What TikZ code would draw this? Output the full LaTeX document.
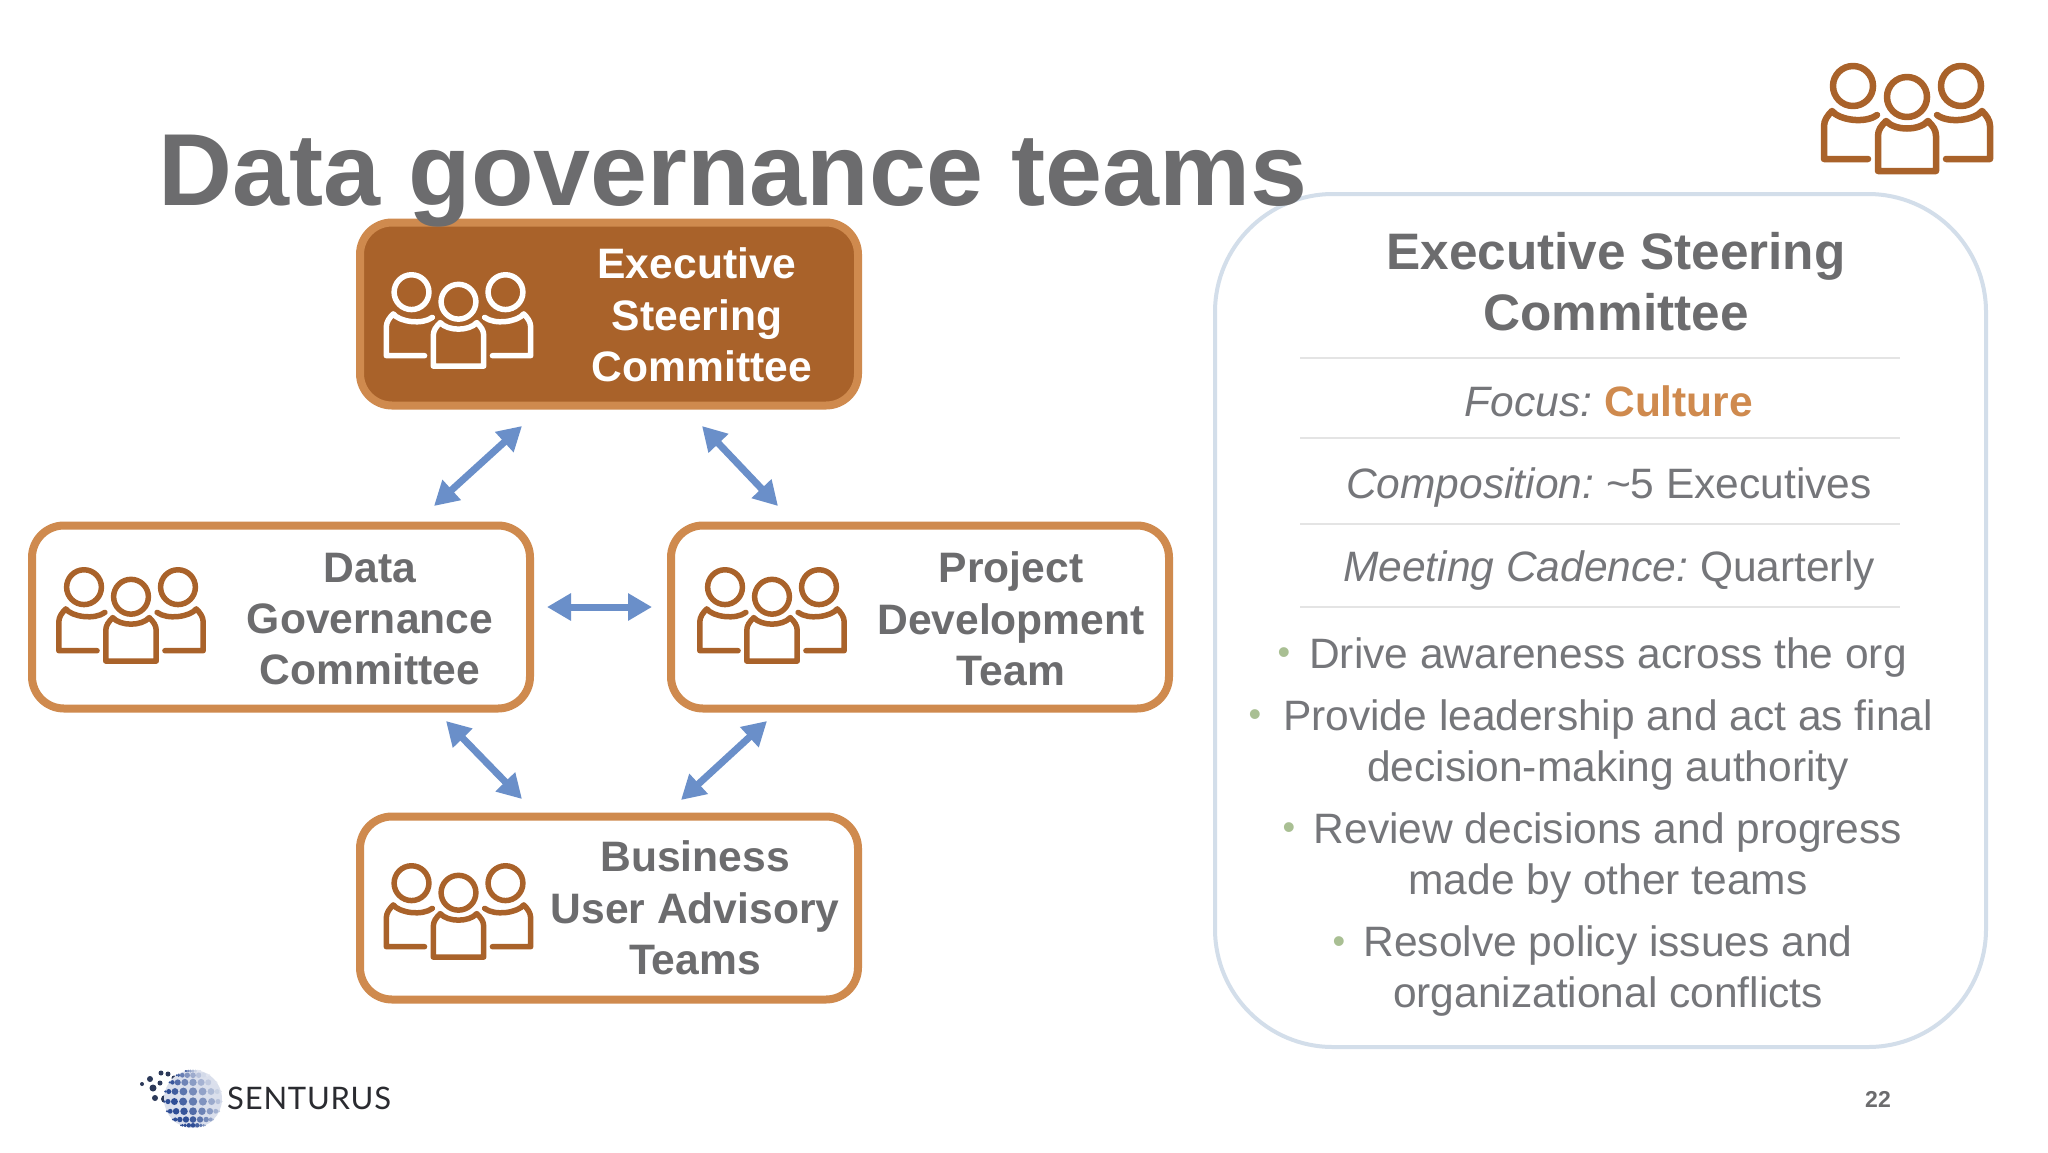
\documentclass[tikz,border=0pt]{standalone}
\usepackage{fontspec}
\setmainfont{Liberation Sans}
\newfontfamily\logofont[LetterSpace=2.5]{Lato}
\usetikzlibrary{arrows.meta}
\definecolor{brownfill}{HTML}{A9622A}
\definecolor{orangeline}{HTML}{CF8A4E}
\definecolor{iconbrown}{HTML}{A9622A}
\definecolor{txtgrey}{HTML}{6C6C6E}
\definecolor{bodygrey}{HTML}{75767A}
\definecolor{arrowblue}{HTML}{6A8FC9}
\definecolor{panelline}{HTML}{D3DEEA}
\definecolor{sepline}{HTML}{E4E4E4}
\definecolor{bulletgreen}{HTML}{A9BF93}
\definecolor{logodark}{HTML}{2A2B30}
\definecolor{globeblue}{HTML}{2F4E96}
\tikzset{
  team/.style={draw=orangeline,line width=8pt,rounded corners=32pt,minimum width=498pt,minimum height=183pt,fill=white,inner sep=0pt},
  teamtext/.style={align=center,text=txtgrey,font=\fontsize{42.6}{51.3}\selectfont\bfseries,inner sep=0pt},
  link/.style={draw=arrowblue,line width=7pt,{Triangle[length=24pt,width=26pt]}-{Triangle[length=24pt,width=26pt]}},
  bodytext/.style={align=center,text=bodygrey,font=\fontsize{42.5}{51.3}\selectfont,inner sep=0pt},
  dot/.style={text=bulletgreen,font=\fontsize{36}{36}\selectfont,inner sep=0pt},
  sep/.style={draw=sepline,line width=1.6pt},
  pics/people/.style={code={
    \begin{scope}[line cap=round,line join=round,fill=none]
    \draw (-54,-32) circle (20);
    \draw (0,-21) circle (20);
    \draw (54,-32) circle (20);
    \draw (-39,41) -- (-83,41) -- (-83,8) .. controls (-83,2) and (-79,-3) .. (-75,-7) .. controls (-68,2) and (-42,6) .. (-30,-3);
    \draw (39,41) -- (83,41) -- (83,8) .. controls (83,2) and (79,-3) .. (75,-7) .. controls (68,2) and (42,6) .. (30,-3);
    \draw (-29,53) -- (29,53) -- (29,18) .. controls (29,12) and (26,8) .. (21,3) .. controls (12,13) and (-12,13) .. (-21,3) .. controls (-26,8) and (-29,12) .. (-29,18) -- cycle;
    \end{scope}
  }}
}
\begin{document}
\begin{tikzpicture}[x=1pt,y=-1pt]
\useasboundingbox (0,0) rectangle (2048,1152);
\fill[white] (0,0) rectangle (2048,1152);

% team boxes
\node[team,fill=brownfill] (exec) at (609,314) {};
\node[team] (dgc) at (281,617) {};
\node[team] (pdt) at (920,617) {};
\node[team] (buat) at (609,908) {};

% icons
\pic[draw=iconbrown,line width=6.5pt] at (1907,118) {people};
\pic[draw=white,line width=5.5pt,scale=.87] at (458.5,320) {people};
\pic[draw=iconbrown,line width=5.5pt,scale=.87] at (131,615) {people};
\pic[draw=iconbrown,line width=5.5pt,scale=.87] at (772,615) {people};
\pic[draw=iconbrown,line width=5.5pt,scale=.87] at (458.5,911) {people};

% box texts
\node[teamtext,text=white] (exectxt) at (697,315) {Executive\\Steering\\\kern10pt Committee};
\node[teamtext] (dgctxt) at (370,619) {Data\\Governance\\Committee};
\node[teamtext] (pdttxt) at (1011,619) {Project\\Development\\Team};
\node[teamtext] (buattxt) at (695,908) {Business\\User Advisory\\Teams};

% connector ends
\coordinate (a1) at (522,426); \coordinate (a2) at (434,506);
\coordinate (b1) at (702,426); \coordinate (b2) at (778,506);
\coordinate (c1) at (547,607); \coordinate (c2) at (652,607);
\coordinate (d1) at (446,721); \coordinate (d2) at (522,799);
\coordinate (e1) at (767,721); \coordinate (e2) at (681,800);
\draw[link] (a1) -- (a2);
\draw[link] (b1) -- (b2);
\draw[link] (c1) -- (c2);
\draw[link] (d1) -- (d2);
\draw[link] (e1) -- (e2);

% right panel
\draw[panelline,line width=4pt,rounded corners=118pt] (1215,194) rectangle (1986,1047);
\node[align=center,text=txtgrey,font=\fontsize{51.3}{61}\selectfont\bfseries,inner sep=0pt] (ptitle) at (1616,282) {Executive Steering\\Committee};
\coordinate (s1a) at (1300,358); \coordinate (s1b) at (1900,358);
\coordinate (s2a) at (1300,438); \coordinate (s2b) at (1900,438);
\coordinate (s3a) at (1300,524); \coordinate (s3b) at (1900,524);
\coordinate (s4a) at (1300,607); \coordinate (s4b) at (1900,607);
\draw[sep] (s1a) -- (s1b);
\draw[sep] (s2a) -- (s2b);
\draw[sep] (s3a) -- (s3b);
\draw[sep] (s4a) -- (s4b);
\node[bodytext] (focus) at (1609,401) {\textit{Focus:}\kern0pt\ {\bfseries\color{orangeline}Culture}};
\node[bodytext] (comp) at (1609,488) {\textit{Composition:}\kern0pt\ \textasciitilde5 Executives};
\node[bodytext] (meet) at (1609,571) {\textit{Meeting Cadence:}\kern0pt\ Quarterly};

\node[bodytext] (b1t) at (1608,657) {Drive awareness across the org};
\node[bodytext] (b2t) at (1608,745) {Provide leadership and act as final\\decision-making authority};
\node[bodytext] (b3t) at (1608,858) {Review decisions and progress\\made by other teams};
\node[bodytext] (b4t) at (1608,971) {Resolve policy issues and\\organizational conflicts};
\node[dot] (b1d) at (1284,656) {•};
\node[dot] (b2d) at (1255,718) {•};
\node[dot] (b3d) at (1289,831) {•};
\node[dot] (b4d) at (1339,945) {•};

% title (over the box)
\node[anchor=base west,inner sep=0pt,text=txtgrey,font=\fontsize{102.4}{110}\selectfont\bfseries] (title) at (158,205) {Data governance teams};

% footer
\foreach \x/\y/\r in {142/1084/2,150/1079/3,153/1088/3.5,161/1073/2.5,160/1083/2.5,155/1098/3,165/1099/4,168/1074/2.5,174/1078/2.5,172/1088/3.5,170/1108/3}
  \fill[logodark!60!globeblue] (\x,\y) circle (\r);
\fill[globeblue!18!white] (193,1099) circle (29);
\foreach \u in {-80,-60,...,80}{
  \foreach \v in {-75,-55,...,75}{
    \pgfmathsetmacro{\px}{193+29*sin(\u)*cos(\v)}
    \pgfmathsetmacro{\py}{1099+29*sin(\v)}
    \pgfmathsetmacro{\rr}{max(0.9,4.2*cos(\u)^0.7*cos(\v)^0.7)}
    \pgfmathsetmacro{\mixv}{max(15,min(100,72-0.65*\u+0.45*\v))}
    \fill[globeblue!\mixv!white] (\px,\py) circle (\rr);
  }
}
\node[anchor=base west,inner sep=0pt,text=logodark,font=\logofont\fontsize{31}{31}\selectfont] (logo) at (227,1109) {SENTURUS};
\node[text=txtgrey,font=\fontsize{23}{23}\selectfont\bfseries,inner sep=0pt] (page) at (1878,1099) {22};
\end{tikzpicture}
\end{document}
